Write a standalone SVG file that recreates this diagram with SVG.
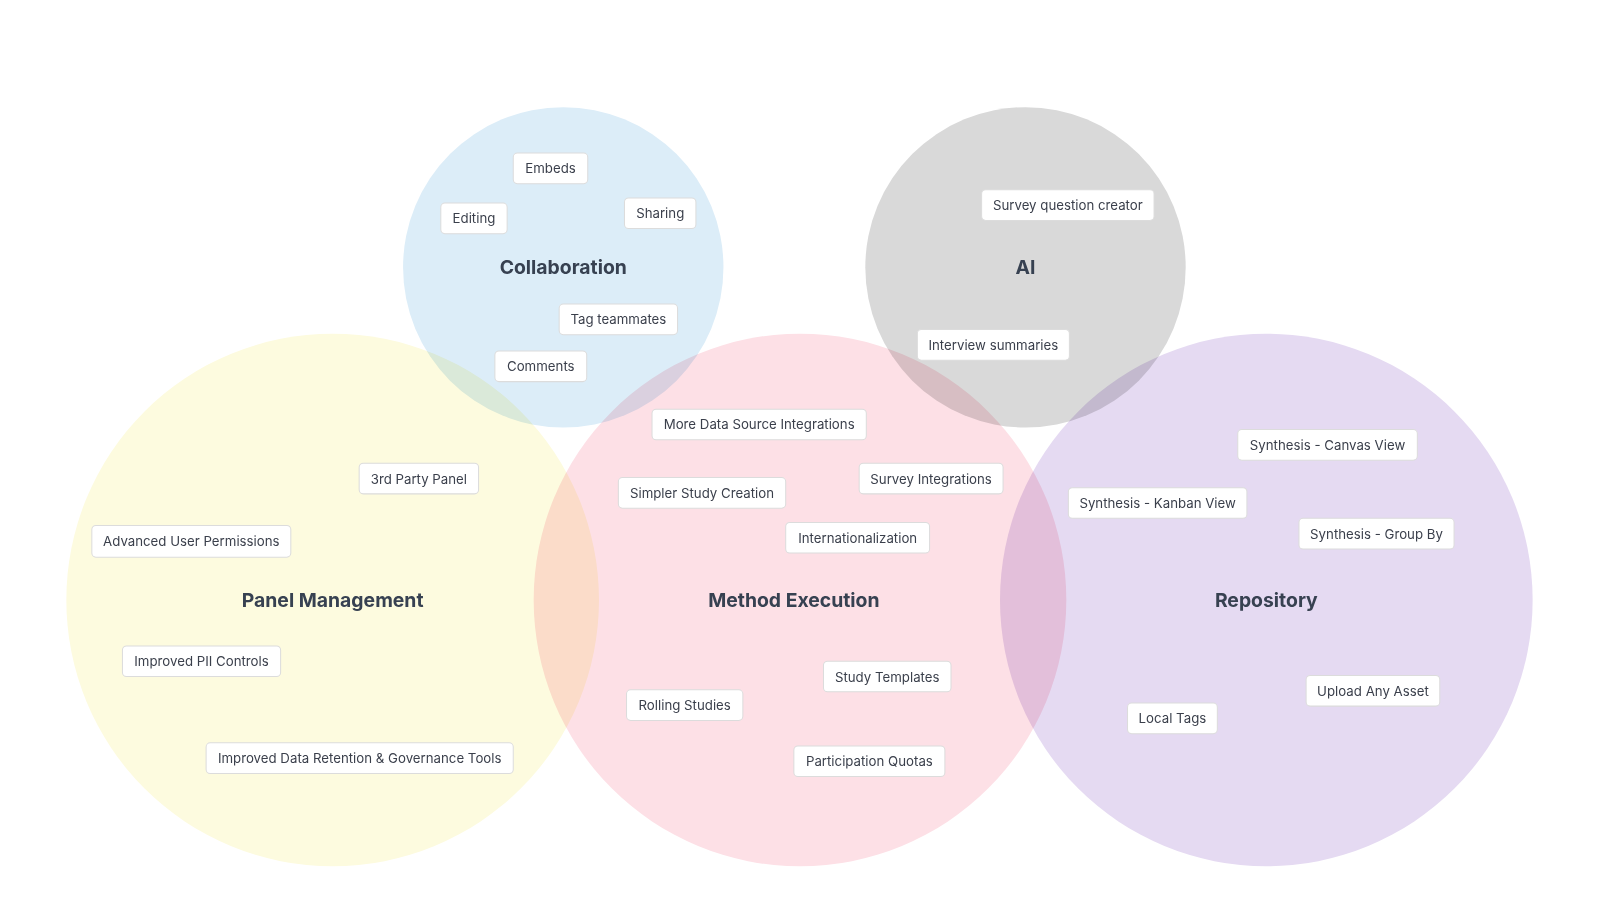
<svg xmlns="http://www.w3.org/2000/svg" width="1600" height="900" viewBox="0 0 1600 900">
<style>
.c{mix-blend-mode:multiply}
.chip rect{fill:#fff;stroke:#dcdcdc;stroke-width:1}
.chip text{font-family:Inter,"Noto Sans",sans-serif;font-size:13px;fill:#3a3f4b;text-anchor:middle;dominant-baseline:central}
.t{font-family:Inter,"Noto Sans",sans-serif;font-size:19px;font-weight:bold;fill:#374151;text-anchor:middle;dominant-baseline:central}
</style>
<rect width="1600" height="900" fill="#fff"/>
<g transform="scale(1.0204)">
<g id="circles">
<circle id="c-panel" class="c" cx="326" cy="588" r="261" fill="#fdfbdf"/>
<circle id="c-method" class="c" cx="784" cy="588" r="261" fill="#fde0e6"/>
<circle id="c-repo" class="c" cx="1241" cy="588" r="261" fill="#e5daf2"/>
<circle id="c-collab" class="c" cx="552" cy="262" r="157" fill="#dcedf8"/>
<circle id="c-ai" class="c" cx="1005" cy="262" r="157" fill="#d9d9d9"/>
</g>
<g id="titles">
<text class="t" x="552" y="262">Collaboration</text>
<text class="t" x="1005" y="262">AI</text>
<text class="t" x="326" y="588">Panel Management</text>
<text class="t" x="778" y="588">Method Execution</text>
<text class="t" x="1241" y="588">Repository</text>
</g>
<g id="connectors"/>
<g id="n1" class="chip"><rect x="503" y="150" width="73" height="30" rx="4"/><text x="539.5" y="165">Embeds</text></g>
<g id="n2" class="chip"><rect x="432" y="199" width="65" height="30" rx="4"/><text x="464.5" y="214">Editing</text></g>
<g id="n3" class="chip"><rect x="612" y="194" width="70" height="30" rx="4"/><text x="647" y="209">Sharing</text></g>
<g id="n4" class="chip"><rect x="548" y="298" width="116" height="30" rx="4"/><text x="606" y="313">Tag teammates</text></g>
<g id="n5" class="chip"><rect x="485" y="344" width="90" height="30" rx="4"/><text x="530" y="359">Comments</text></g>
<g id="n6" class="chip"><rect x="962" y="186" width="169" height="30" rx="4"/><text x="1046.5" y="201">Survey question creator</text></g>
<g id="n7" class="chip"><rect x="899" y="323" width="149" height="30" rx="4"/><text x="973.5" y="338">Interview summaries</text></g>
<g id="n8" class="chip"><rect x="639" y="401" width="210" height="30" rx="4"/><text x="744" y="416">More Data Source Integrations</text></g>
<g id="n9" class="chip"><rect x="352" y="454" width="117" height="30" rx="4"/><text x="410.5" y="469">3rd Party Panel</text></g>
<g id="n10" class="chip"><rect x="606" y="468" width="164" height="30" rx="4"/><text x="688" y="483">Simpler Study Creation</text></g>
<g id="n11" class="chip"><rect x="842" y="454" width="141" height="30" rx="4"/><text x="912.5" y="469">Survey Integrations</text></g>
<g id="n12" class="chip"><rect x="770" y="512" width="141" height="30" rx="4"/><text x="840.5" y="527">Internationalization</text></g>
<g id="n13" class="chip"><rect x="90" y="515" width="195" height="31" rx="4"/><text x="187.5" y="530.5">Advanced User Permissions</text></g>
<g id="n14" class="chip"><rect x="1213" y="421" width="176" height="30" rx="4"/><text x="1301" y="436">Synthesis - Canvas View</text></g>
<g id="n15" class="chip"><rect x="1047" y="478" width="175" height="30" rx="4"/><text x="1134.5" y="493">Synthesis - Kanban View</text></g>
<g id="n16" class="chip"><rect x="1273" y="508" width="152" height="30" rx="4"/><text x="1349" y="523">Synthesis - Group By</text></g>
<g id="n17" class="chip"><rect x="120" y="633" width="155" height="30" rx="4"/><text x="197.5" y="648">Improved PII Controls</text></g>
<g id="n18" class="chip"><rect x="807" y="648" width="125" height="30" rx="4"/><text x="869.5" y="663">Study Templates</text></g>
<g id="n19" class="chip"><rect x="614" y="676" width="114" height="30" rx="4"/><text x="671" y="691">Rolling Studies</text></g>
<g id="n20" class="chip"><rect x="1280" y="662" width="131" height="30" rx="4"/><text x="1345.5" y="677">Upload Any Asset</text></g>
<g id="n21" class="chip"><rect x="1105" y="689" width="88" height="30" rx="4"/><text x="1149" y="704">Local Tags</text></g>
<g id="n22" class="chip"><rect x="778" y="731" width="148" height="30" rx="4"/><text x="852" y="746">Participation Quotas</text></g>
<g id="n23" class="chip"><rect x="202" y="728" width="301" height="30" rx="4"/><text x="352.5" y="743">Improved Data Retention &amp; Governance Tools</text></g>
</g>
</svg>
